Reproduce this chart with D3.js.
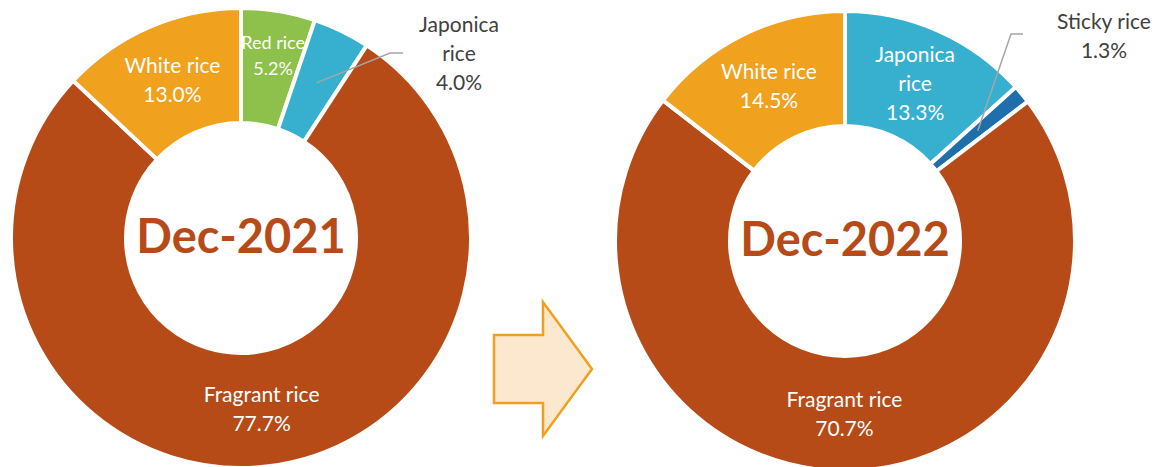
<!DOCTYPE html>
<html>
<head>
<meta charset="utf-8">
<script src="https://cdn.jsdelivr.net/npm/d3@7"></script>
<style>
  html, body { margin: 0; padding: 0; background: #fff; }
  svg { display: block; font-family: Lato, "Open Sans", sans-serif; }
</style>
</head>
<body>
<script>
// rice sales mix by type, share of volume (%)
const periods = ["Dec-2021", "Dec-2022"];
const categories2021 = ["Red rice", "Japonica rice", "Fragrant rice", "White rice"];
const shares2021 = [5.2, 4.0, 77.7, 13.0];
const categories2022 = ["Japonica rice", "Sticky rice", "Fragrant rice", "White rice"];
const shares2022 = [13.3, 1.3, 70.7, 14.5];

const allCategories = ["Red rice", "Japonica rice", "Sticky rice", "Fragrant rice", "White rice"];
const color = d3.scaleOrdinal()
    .domain(allCategories)
    .range(["#8DC14B", "#37AFCF", "#1F6FAC", "#B64B18", "#F0A11E"]);

const W = 1158, H = 467;
const svg = d3.select("body").append("svg")
    .attr("width", W)
    .attr("height", H);

const rOuter = 230, rInner = 115;   // 4px white stroke eats 2px each side
const rLabel = 172.5;

// where the small slices get their callout (relative to donut centre)
const callouts = [
    {tx: 218, ty: -206, elbow: [149, -185], end: [162, -185]},
    {tx: 259, ty: -212, elbow: [166, -207], end: [178, -207]}
];

const charts = [
    {period: periods[0], names: categories2021, values: shares2021, cx: 241, cy: 238},
    {period: periods[1], names: categories2022, values: shares2022, cx: 845, cy: 241}
];

const pie = d3.pie().sort(null).value(d => d.value);
const arc = d3.arc().innerRadius(rInner).outerRadius(rOuter);
const labelArc = d3.arc().innerRadius(rLabel).outerRadius(rLabel);

function lines(name) {
    return name === "Japonica rice" ? ["Japonica", "rice"] : [name];
}

charts.forEach((c, ci) => {
    const data = c.names.map((n, i) => ({name: n, value: c.values[i]}));
    const arcs = pie(data);
    const g = svg.append("g").attr("transform", `translate(${c.cx},${c.cy})`);

    g.selectAll("path.slice")
        .data(arcs)
        .enter().append("path")
        .attr("class", "slice")
        .attr("d", arc)
        .attr("fill", d => color(d.data.name))
        .attr("stroke", "#fff")
        .attr("stroke-width", 4)
        .attr("stroke-linejoin", "miter");

    // labels inside the ring
    arcs.filter(d => d.data.value > 4.5).forEach(d => {
        let [x, y] = labelArc.centroid(d);
        let fs = 21, lh = 29;
        if (d.data.value < 8) {   // narrow slice: label pushed outward a bit
            const a = (d.startAngle + d.endAngle) / 2;
            x = 185 * Math.sin(a) + 2;
            y = -185 * Math.cos(a);
            fs = 18; lh = 26;
        }
        const txt = lines(d.data.name).concat([d.data.value.toFixed(1) + "%"]);
        const n = txt.length;
        const t = g.append("text")
            .attr("text-anchor", "middle")
            .attr("fill", "#fff")
            .attr("font-size", fs);
        txt.forEach((s, i) => {
            t.append("tspan")
                .attr("x", x)
                .attr("y", y + fs * 0.36 + (i - (n - 1) / 2) * lh)
                .text(s);
        });
    });

    // callout for the thin slice
    arcs.filter(d => d.data.value <= 4.5).forEach(d => {
        const co = callouts[ci];
        const [x0, y0] = labelArc.centroid(d);
        g.append("polyline")
            .attr("points", [[x0, y0], co.elbow, co.end].map(p => p.join(",")).join(" "))
            .attr("fill", "none")
            .attr("stroke", "#A5A5A5")
            .attr("stroke-width", 1.5);
        const txt = (d.data.name === "Japonica rice" ? ["Japonica", "rice"] : [d.data.name])
            .concat([d.data.value.toFixed(1) + "%"]);
        const t = g.append("text")
            .attr("text-anchor", "middle")
            .attr("fill", "#404040")
            .attr("font-size", 21);
        txt.forEach((s, i) => {
            t.append("tspan")
                .attr("x", co.tx)
                .attr("y", co.ty + i * 29)
                .text(s);
        });
    });

    g.append("text")
        .attr("text-anchor", "middle")
        .attr("y", 15)
        .attr("fill", "#B64B18")
        .attr("font-size", 47)
        .attr("font-weight", "bold")
        .text(c.period);
});

// block arrow between the two donuts
const arrowPts = [[494, 335], [543, 335], [543, 302], [592, 369], [543, 436], [543, 403], [494, 403]];
svg.append("path")
    .attr("d", d3.line()(arrowPts) + "Z")
    .attr("fill", "#FCE7CF")
    .attr("stroke", "#F0A020")
    .attr("stroke-width", 2.5)
    .attr("stroke-linejoin", "miter");
</script>
</body>
</html>
